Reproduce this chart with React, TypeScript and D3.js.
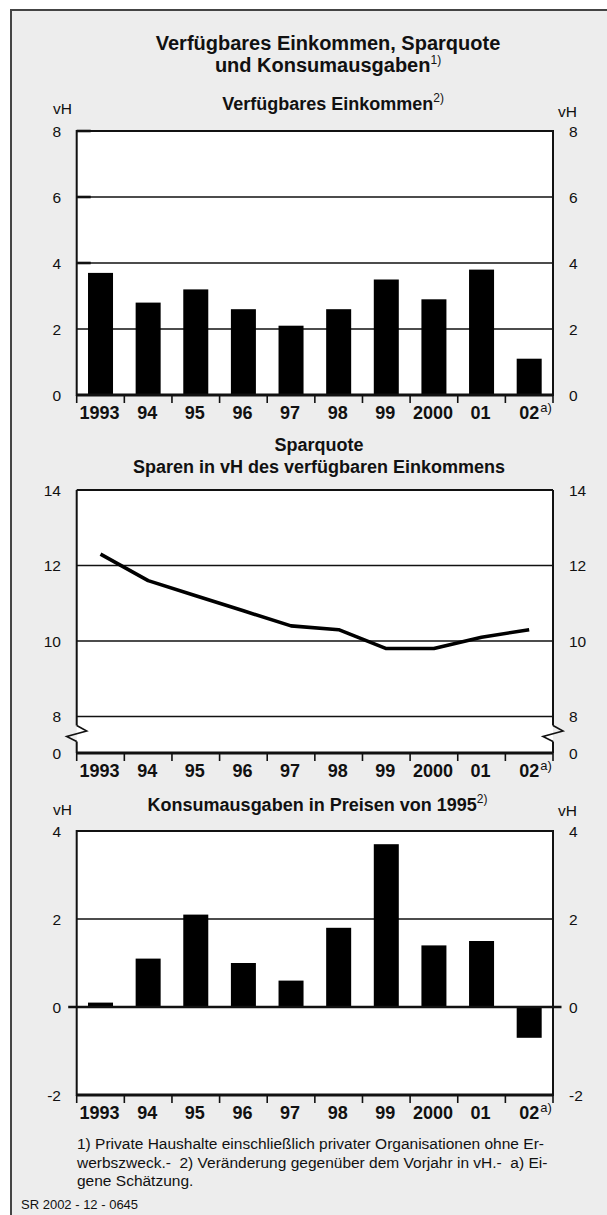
import React from "react";
import * as d3 from "d3";

const years = ["1993", "94", "95", "96", "97", "98", "99", "2000", "01", "02"];
const einkommen = [3.7, 2.8, 3.2, 2.6, 2.1, 2.6, 3.5, 2.9, 3.8, 1.1];
const sparquote = [12.3, 11.6, 11.2, 10.8, 10.4, 10.3, 9.8, 9.8, 10.1, 10.3];
const konsum = [0.1, 1.1, 2.1, 1.0, 0.6, 1.8, 3.7, 1.4, 1.5, -0.7];

const ticks1 = [0, 2, 4, 6, 8];
const ticks2 = [8, 10, 12, 14];
const ticks3 = [-2, 0, 2, 4];

const title1 = "Verfügbares Einkommen, Sparquote";
const title2 = "und Konsumausgaben";
const sub1 = "Verfügbares Einkommen";
const sub2a = "Sparquote";
const sub2b = "Sparen in vH des verfügbaren Einkommens";
const sub3 = "Konsumausgaben in Preisen von 1995";
const footnotes = [
  "1) Private Haushalte einschließlich privater Organisationen ohne Er-",
  "werbszweck.-\u00a0 2) Veränderung gegenüber dem Vorjahr in vH.-\u00a0 a) Ei-",
  "gene Schätzung.",
];
const source = "SR 2002 - 12 - 0645";

const FONT = "'Liberation Sans', Arial, Helvetica, sans-serif";
const L = 76.7;
const R = 553;
const INK = "#111";

const xBand = d3.scaleBand<string>().domain(years).range([L, R]).paddingInner(0.475).paddingOuter(0.2375);
const xEdge = d3.scaleLinear().domain([0, years.length]).range([L, R]);
const cx = (y: string) => (xBand(y) as number) + xBand.bandwidth() / 2;

const y1 = d3.scaleLinear().domain([0, 8]).range([395, 131]);
const y2 = d3.scaleLinear().domain([8, 14]).range([716.5, 490]);
const y2axis = 753;
const y3 = d3.scaleLinear().domain([-2, 4]).range([1095, 831]);

function XAxis({ y }: { y: number }) {
  return (
    <g>
      <line x1={L} x2={R} y1={y} y2={y} stroke={INK} strokeWidth={3} />
      {d3.range(years.length + 1).map((i) => (
        <line key={i} x1={xEdge(i)} x2={xEdge(i)} y1={y} y2={y + 8} stroke={INK} strokeWidth={1.6} />
      ))}
      {years.map((yr, i) => (
        <text
          key={yr}
          x={cx(yr) - (i === years.length - 1 ? 0 : 1)}
          y={y + 24}
          textAnchor="middle"
          fontSize={18}
          fontWeight="bold"
          fill={INK}
        >
          {yr}
        </text>
      ))}
      <text x={cx(years[years.length - 1]) + 11} y={y + 17} fontSize={13} fill={INK}>
        a)
      </text>
    </g>
  );
}

function YLabels({ values, scale, extra }: { values: number[]; scale: (v: number) => number; extra?: [string, number][] }) {
  const items: [string, number][] = values.map((v) => [String(v), scale(v)]);
  if (extra) items.push(...extra);
  return (
    <g fontSize={15.5} fill={INK}>
      {items.map(([t, y]) => (
        <g key={t + y}>
          <text x={61} y={y + 5.5} textAnchor="end">{t}</text>
          <text x={569} y={y + 5.5} textAnchor="start">{t}</text>
        </g>
      ))}
    </g>
  );
}

function Sup({ text, dy = -8 }: { text: string; dy?: number }) {
  return (
    <>
      <tspan dy={dy} fontSize={12} fontWeight="normal">{text}</tspan>
    </>
  );
}

export default function App() {
  const line = d3
    .line<number>()
    .x((_, i) => cx(years[i]))
    .y((d) => y2(d));

  const brk = (x: number) =>
    `M${x},${y2(8) + 9} L${x + 10},${y2(8) + 14.5} L${x - 10},${y2(8) + 20} L${x},${y2(8) + 25}`;

  return (
    <svg
      width={607}
      height={1215}
      style={{ position: "absolute", left: 0, top: 0, fontFamily: FONT }}
    >
      <rect x={0} y={0} width={607} height={1215} fill="#fff" />
      <rect x={11} y={10} width={640} height={1240} fill="#ededed" stroke="#444" strokeWidth={2} />

      {/* Main title */}
      <text x={328} y={49.5} textAnchor="middle" fontSize={20} fontWeight="bold" fill={INK}>
        {title1}
      </text>
      <text x={328} y={71.5} textAnchor="middle" fontSize={20} fontWeight="bold" fill={INK}>
        {title2}
        <Sup text="1)" />
      </text>

      {/* Panel 1 */}
      <text x={333} y={110} textAnchor="middle" fontSize={18} fontWeight="bold" fill={INK}>
        {sub1}
        <Sup text="2)" />
      </text>
      <text x={53} y={114} fontSize={15.5} fill={INK}>vH</text>
      <text x={558} y={116.5} fontSize={15.5} fill={INK}>vH</text>
      <rect x={L} y={y1(8)} width={R - L} height={y1(0) - y1(8)} fill="#fff" />
      {[2, 4, 6].map((t) => (
        <line key={t} x1={L} x2={R} y1={y1(t)} y2={y1(t)} stroke={INK} strokeWidth={1.5} />
      ))}
      {[4, 6, 8].map((t) => (
        <line key={"s" + t} x1={L} x2={L + 14} y1={y1(t)} y2={y1(t)} stroke={INK} strokeWidth={2.6} />
      ))}
      {einkommen.map((v, i) => (
        <rect
          key={years[i]}
          x={xBand(years[i])}
          y={y1(v)}
          width={xBand.bandwidth()}
          height={y1(0) - y1(v)}
          fill="#000"
        />
      ))}
      <rect x={L} y={y1(8)} width={R - L} height={y1(0) - y1(8)} fill="none" stroke={INK} strokeWidth={2} />
      <XAxis y={y1(0)} />
      <YLabels values={ticks1} scale={y1} />

      {/* Panel 2 */}
      <text x={319} y={451} textAnchor="middle" fontSize={18} fontWeight="bold" fill={INK}>
        {sub2a}
      </text>
      <text x={319} y={473} textAnchor="middle" fontSize={18} fontWeight="bold" fill={INK}>
        {sub2b}
      </text>
      <rect x={L} y={y2(14)} width={R - L} height={y2axis - y2(14)} fill="#fff" />
      {[8, 10, 12].map((t) => (
        <line key={t} x1={L} x2={R} y1={y2(t)} y2={y2(t)} stroke={INK} strokeWidth={1.5} />
      ))}
      <path d={line(sparquote) || ""} fill="none" stroke="#000" strokeWidth={3.6} strokeLinejoin="round" />
      <line x1={L} x2={R} y1={y2(14)} y2={y2(14)} stroke={INK} strokeWidth={2} />
      {[L, R].map((x) => (
        <g key={x} fill="none" stroke={INK} strokeWidth={2}>
          <line x1={x} x2={x} y1={y2(14)} y2={y2(8) + 9} />
          <path d={brk(x)} strokeWidth={1.6} />
          <line x1={x} x2={x} y1={y2(8) + 25} y2={y2axis} />
        </g>
      ))}
      <XAxis y={y2axis} />
      <YLabels values={ticks2} scale={y2} extra={[["0", y2axis]]} />

      {/* Panel 3 */}
      <text x={317.5} y={811} textAnchor="middle" fontSize={18} fontWeight="bold" fill={INK}>
        {sub3}
        <Sup text="2)" />
      </text>
      <text x={53} y={815} fontSize={15.5} fill={INK}>vH</text>
      <text x={558} y={816} fontSize={15.5} fill={INK}>vH</text>
      <rect x={L} y={y3(4)} width={R - L} height={y3(-2) - y3(4)} fill="#fff" />
      <line x1={L} x2={R} y1={y3(2)} y2={y3(2)} stroke={INK} strokeWidth={1.5} />
      {konsum.map((v, i) => (
        <rect
          key={years[i]}
          x={xBand(years[i])}
          y={y3(Math.max(0, v))}
          width={xBand.bandwidth()}
          height={Math.abs(y3(v) - y3(0))}
          fill="#000"
        />
      ))}
      <line x1={L - 8.5} x2={R + 8.5} y1={y3(0)} y2={y3(0)} stroke={INK} strokeWidth={2.6} />
      <rect x={L} y={y3(4)} width={R - L} height={y3(-2) - y3(4)} fill="none" stroke={INK} strokeWidth={2} />
      <XAxis y={y3(-2)} />
      <YLabels values={ticks3} scale={y3} />

      {/* Footnotes */}
      <g fontSize={15.5} fill={INK}>
        {footnotes.map((t, i) => (
          <text key={i} x={77} y={1149 + i * 18.5}>{t}</text>
        ))}
      </g>
      <text x={21} y={1209} fontSize={13} fill={INK}>{source}</text>
    </svg>
  );
}
